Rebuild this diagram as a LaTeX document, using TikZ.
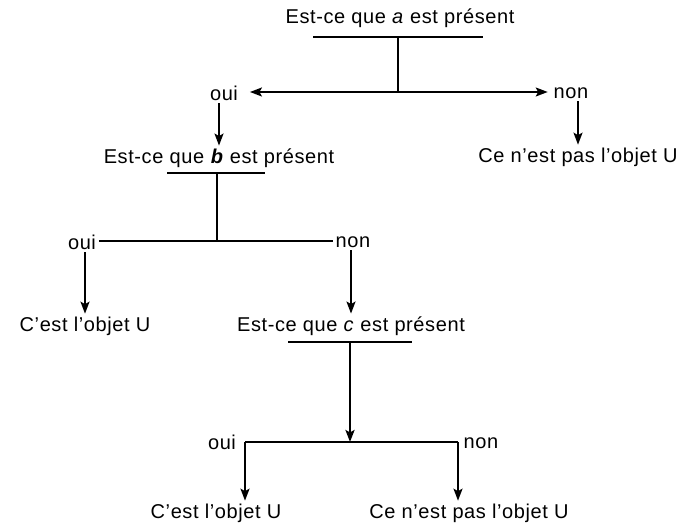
\documentclass[tikz,border=0pt]{standalone}
\usepackage{fontspec}
\setmainfont[LetterSpace=3]{Liberation Sans}
\usetikzlibrary{arrows.meta, calc, positioning}

\begin{document}
\begin{tikzpicture}[x=1pt, y=-1pt,% styles used in image code
          > = {Stealth[length=12pt, width=9pt, inset=2.5pt]},
    txt/.style = {inner sep=0pt, outer sep=3pt,
                  font=\fontsize{20}{24}\selectfont},
    bar/.style = {line width=2.4pt},
   stem/.style = {line width=2.4pt},
   link/.style = {line width=1.8pt}
                   ]
	\useasboundingbox (0,0) rectangle (684,526);

	% first question
	\node[txt] (q1) at (400,18) {Est-ce que \textit{a} est présent};
	\coordinate (j1) at (398,37);
	\coordinate (s1) at (398,92);
	\draw[bar] ([xshift=-85pt]j1) -- ([xshift=85pt]j1);
	\draw[stem] (j1) -- (s1);
	\node[txt] (o1) at (224,93) {oui};
	\node[txt] (n1) at (571,93) {non};
	\draw[link,->,shorten >=9pt] (s1) -- (s1 -| o1.east);
	\draw[link,->,shorten >=3pt] (s1) -- (s1 -| n1.west);

	% second level
	\node[txt] (q2) at (219,158) {Est-ce que \textbf{\textit{b}} est présent};
	\node[txt] (r1) at (578,157) {Ce n’est pas l’objet U};
	\draw[link,->] (q2.north |- o1.south) -- (q2.north);
	\draw[link,->] (r1.north |- n1.south) -- (r1.north);

	\coordinate (j2) at (217,173);
	\coordinate (s2) at (217,241);
	\draw[bar] ([xshift=-50pt]j2) -- ([xshift=48pt]j2);
	\draw[stem] (j2) -- (s2);
	\node[txt] (o2) at (82,242) {oui};
	\node[txt] (n2) at (353,242) {non};
	\draw[link] (s2 -| o2.east) -- (s2 -| n2.west);

	% third level
	\node[txt] (r2) at (85,326) {C’est l’objet U};
	\node[txt] (q3) at (351,326) {Est-ce que \textit{c} est présent};
	\draw[link,->] (r2.north |- o2.south) -- (r2.north);
	\draw[link,->] (q3.north |- n2.south) -- (q3.north);

	\coordinate (j3) at (350,342);
	\coordinate (s3) at (350,442);
	\coordinate (c3l) at (245,442);
	\coordinate (c3r) at (458,442);
	\draw[bar] ([xshift=-62pt]j3) -- ([xshift=62pt]j3);
	\draw[stem,->] (j3) -- (s3);
	\draw[link] (c3l) -- (c3r);
	\node[txt] (o3) at (222,442) {oui};
	\node[txt] (n3) at (481,443) {non};

	% last answers
	\node[txt] (r3) at (216,513) {C’est l’objet U};
	\node[txt] (r4) at (469,513) {Ce n’est pas l’objet U};
	\draw[link,->] (c3l) -- (c3l |- r3.north);
	\draw[link,->] (c3r) -- (c3r |- r4.north);
\end{tikzpicture}
\end{document}
